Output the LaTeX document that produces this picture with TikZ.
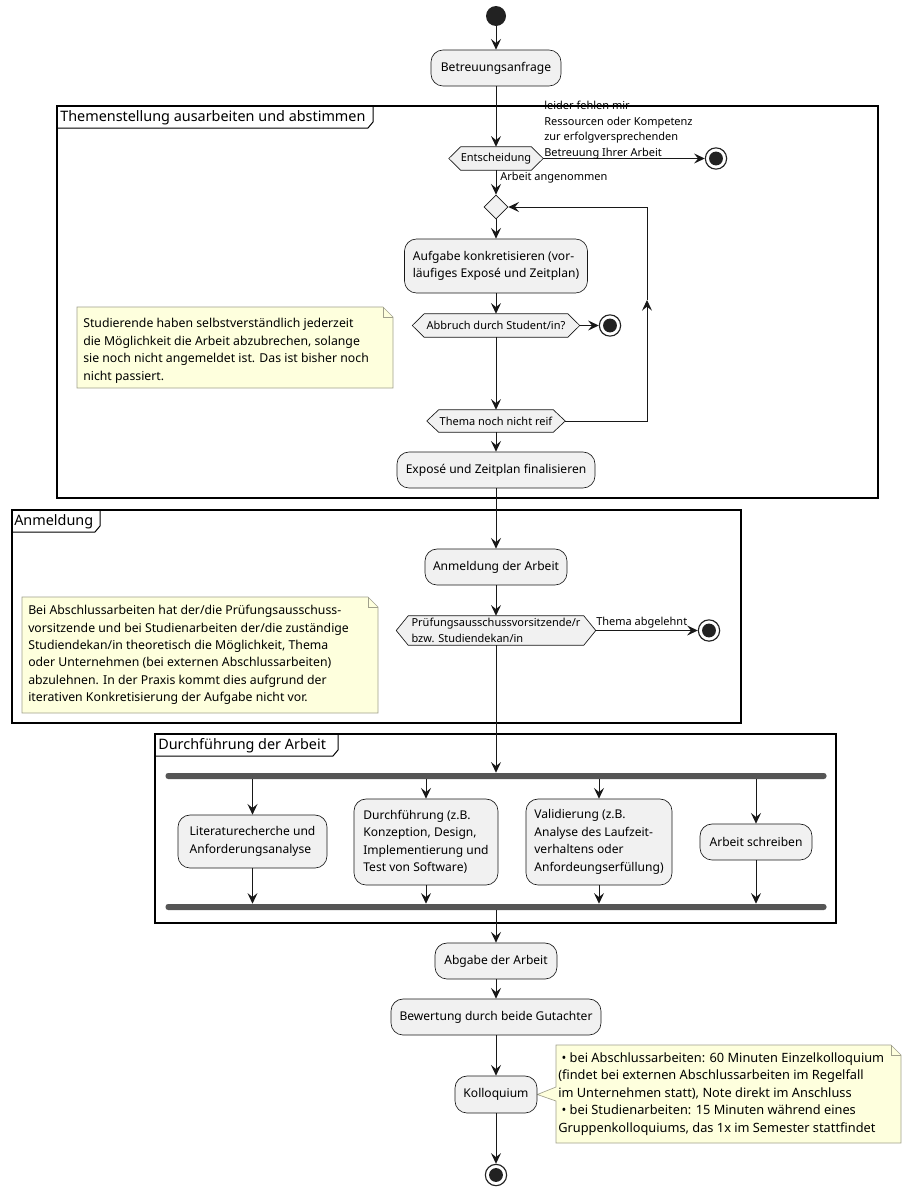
\documentclass[tikz,border=0pt]{standalone}
\usepackage{fontspec}
\setmainfont{Noto Sans}
\usetikzlibrary{arrows.meta,shapes.geometric,backgrounds,calc}
\definecolor{boxfill}{HTML}{F1F1F1}
\definecolor{ln}{HTML}{181818}
\definecolor{notefill}{HTML}{FEFFDD}
\definecolor{noteline}{HTML}{A0A08C}
\definecolor{barfill}{HTML}{555555}
\definecolor{dot}{HTML}{222222}
\newcommand\fmain{\fontsize{9.05}{13.1}\selectfont}
\newcommand\fnote{\fontsize{9.2}{13.1}\selectfont}
\newcommand\fnotebig{\fontsize{9.6}{13.1}\selectfont}
\newcommand\fsmall{\fontsize{8.25}{11.6}\selectfont}
\newcommand\ftitle{\fontsize{10.8}{12}\selectfont}
\newcommand\hexnode[4]{\node[hexin,#3] (#1) at (#2) {#4};
  \begin{scope}[on background layer]
  \path[hexframe] (#1.west) -- ([xshift=9pt]#1.north west) -- ([xshift=-9pt]#1.north east) -- (#1.east) -- ([xshift=-9pt]#1.south east) -- ([xshift=9pt]#1.south west) -- cycle;
  \end{scope}}
\begin{document}
\begin{tikzpicture}[x=0.75pt,y=-0.75pt,
 act/.style={draw=ln, fill=boxfill, line width=0.5pt, rounded corners=9pt, font=\fmain, align=left, inner sep=0pt},
 hexin/.style={font=\fsmall, align=left, inner sep=0pt},
 hexframe/.style={draw=ln, fill=boxfill, line width=0.5pt},
 startc/.style={circle, fill=dot, minimum size=15pt, inner sep=0pt},
 endc/.style={circle, draw=dot, line width=0.85pt, fill=white, minimum size=16pt, inner sep=0pt, path picture={\fill[dot] (path picture bounding box.center) circle (5.2pt);}},
 merge/.style={diamond, draw=ln, fill=boxfill, line width=0.5pt, minimum size=18pt, inner sep=0pt},
 bar/.style={fill=barfill, rounded corners=2pt, inner sep=0pt, minimum height=4.5pt, minimum width=495.75pt},
 flow/.style={draw=ln, line width=0.75pt, -{Stealth[length=8pt,width=7.5pt,inset=3pt]}},
 lbl/.style={font=\fsmall, align=left, inner sep=0pt},
 notetext/.style={font=\fnote, align=left, inner sep=0pt},
 noteshape/.style={draw=noteline, fill=notefill, line width=0.5pt},
 frame/.style={draw=black, line width=1.1pt},
 tab/.style={draw=black, line width=0.75pt},
 ftitle/.style={font=\ftitle, inner sep=0pt},
]
\useasboundingbox (0,0) rectangle (910,1196);

% frames
\draw[frame] (57,106) rectangle (878,498);
\node[ftitle, anchor=west] (t1) at (60,117.5) {Themenstellung ausarbeiten und abstimmen};
\draw[tab] (57,128) -- (368,128) -- (373,122) -- (373,106);
\draw[frame] (12,510) rectangle (741,723);
\node[ftitle, anchor=west] (t2) at (14,521.5) {Anmeldung};
\draw[tab] (12,532) -- (95,532) -- (100,526) -- (100,510);
\draw[frame] (155,734) rectangle (836,923);
\node[ftitle, anchor=west] (t3) at (158,745.5) {Durchführung der Arbeit};
\draw[tab] (155,756) -- (333,756) -- (338,750) -- (338,734);

% nodes
\node[startc] (start) at (496,16) {};
\node[act, minimum width=97.5pt, minimum height=27pt] (anfrage) at (496,68) {Betreuungsanfrage};
\hexnode{entsch}{496,158.5}{minimum width=70.5pt, minimum height=17.25pt}{Entscheidung}
\node[endc] (end1) at (716,158.5) {};
\node[merge] (merge) at (496,207) {};
\node[act, minimum width=137.25pt, minimum height=40.5pt] (aufgabe) at (496,266) {Aufgabe konkretisieren (vor-\\läufiges Exposé und Zeitplan)};
\hexnode{abbruch}{496,325.5}{minimum width=125.25pt, minimum height=17.25pt}{Abbruch durch Student/in?}
\node[endc] (end2) at (610,325.5) {};
\hexnode{reif}{496,421}{minimum width=103.5pt, minimum height=16.5pt}{Thema noch nicht reif}
\node[act, minimum width=148.5pt, minimum height=27pt] (expose) at (496,470) {Exposé und Zeitplan finalisieren};

\node[act, minimum width=106.5pt, minimum height=27pt] (anmeldung) at (496,567) {Anmeldung der Arbeit};
\hexnode{pruef}{496,630.5}{minimum width=149.25pt, minimum height=21.75pt}{Prüfungsausschussvorsitzende/r\\bzw. Studiendekan/in}
\node[endc] (end3) at (709,630.5) {};

\node[bar] (fork) at (496,776) {};
\node[act, minimum width=111.75pt, minimum height=39.75pt] (lit) at (252.5,841.5) {Literaturecherche und\\Anforderungsanalyse};
\node[act, minimum width=108pt, minimum height=64.5pt] (durch) at (426,842) {Durchführung (z.B.\\Konzeption, Design,\\Implementierung und\\Test von Software)};
\node[act, minimum width=109.5pt, minimum height=64.5pt] (valid) at (599,842) {Validierung (z.B.\\Analyse des Laufzeit-\\verhaltens oder\\Anfordeungserfüllung)};
\node[act, minimum width=84pt, minimum height=27pt] (schreib) at (756,842) {Arbeit schreiben};
\node[bar] (join) at (496,907) {};

\node[act, minimum width=91.5pt, minimum height=27pt] (abgabe) at (496,961) {Abgabe der Arbeit};
\node[act, minimum width=157.5pt, minimum height=27pt] (bewert) at (496,1017) {Bewertung durch beide Gutachter};
\node[act, minimum width=61.5pt, minimum height=27.75pt] (kollo) at (496,1094.5) {Kolloquium};
\node[endc] (endF) at (496,1175) {};

% notes
\node[notetext, anchor=west] (n1) at (83,351) {Studierende haben selbstverständlich jederzeit\\die Möglichkeit die Arbeit abzubrechen, solange\\sie noch nicht angemeldet ist. Das ist bisher noch\\nicht passiert.};
\node[notetext, anchor=west] (n2) at (28,655) {Bei Abschlussarbeiten hat der/die Prüfungsausschuss-\\vorsitzende und bei Studienarbeiten der/die zuständige\\Studiendekan/in theoretisch die Möglichkeit, Thema\\oder Unternehmen (bei externen Abschlussarbeiten)\\abzulehnen. In der Praxis kommt dies aufgrund der\\iterativen Konkretisierung der Aufgabe nicht vor.};
\node[notetext, font=\fnotebig, anchor=west] (n3) at (558,1094) {\hspace{2.5pt}• bei Abschlussarbeiten: 60 Minuten Einzelkolloquium\\(findet bei externen Abschlussarbeiten im Regelfall\\im Unternehmen statt), Note direkt im Anschluss\\\hspace{2.5pt}• bei Studienarbeiten: 15 Minuten während eines\\Gruppenkolloquiums, das 1x im Semester stattfindet};
\begin{scope}[on background layer]
\path[noteshape] (77,307) -- (383,307) -- (393,317) -- (393,388) -- (77,388) -- cycle;
\draw[noteline, line width=0.5pt] (383,307) -- (383,317) -- (393,317);
\path[noteshape] (22,597) -- (368,597) -- (378,607) -- (378,713) -- (22,713) -- cycle;
\draw[noteline, line width=0.5pt] (368,597) -- (368,607) -- (378,607);
\path[noteshape] (556,1045) -- (891,1045) -- (901,1055) -- (901,1143) -- (556,1143) -- (556,1101) -- (kollo.east) -- (556,1087) -- cycle;
\draw[noteline, line width=0.5pt] (891,1045) -- (891,1055) -- (901,1055);
\end{scope}

% connectors
\draw[flow] (start) -- (anfrage);
\draw[flow] (anfrage) -- (entsch);
\draw[flow] (entsch.east) -- (end1);
\node[lbl, anchor=south west] (l1) at (544,159) {leider fehlen mir\\Ressourcen oder Kompetenz\\zur erfolgversprechenden\\Betreuung Ihrer Arbeit};
\draw[flow] (entsch) -- (merge);
\node[lbl, anchor=west] (l2) at (500,178) {Arbeit angenommen};
\draw[flow] (merge) -- (aufgabe);
\draw[flow] (aufgabe) -- (abbruch);
\draw[flow] (abbruch.east) -- (end2);
\draw[flow] (abbruch) -- (reif);
\coordinate (lpA) at (647,421);
\coordinate (lpM) at (647,300);
\coordinate (lpB) at (647,207);
\draw[flow] (reif.east) -- (lpA) -- (lpM);
\draw[flow] (lpM) -- (lpB) -- (merge.east);
\draw[flow] (reif) -- (expose);
\draw[flow] (expose) -- (anmeldung);
\draw[flow] (anmeldung) -- (pruef);
\draw[flow] (pruef.east) -- (end3);
\node[lbl, anchor=south west] (l3) at (596,628) {Thema abgelehnt};
\draw[flow] (pruef) -- (fork);
\foreach \n in {lit,durch,valid,schreib}{
  \draw[flow] (\n.north |- fork.south) -- (\n.north);
  \draw[flow] (\n.south) -- (\n.south |- join.north);
}
\draw[flow] (join) -- (abgabe);
\draw[flow] (abgabe) -- (bewert);
\draw[flow] (bewert) -- (kollo);
\draw[flow] (kollo) -- (endF);
\end{tikzpicture}
\end{document}
